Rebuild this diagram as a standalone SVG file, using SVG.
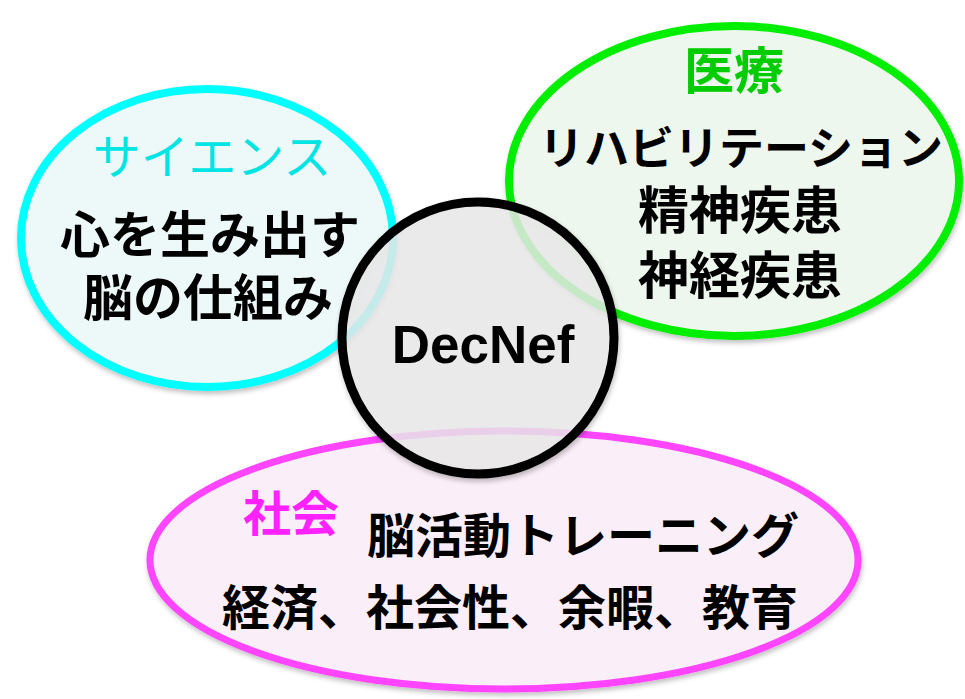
<svg xmlns="http://www.w3.org/2000/svg" width="965" height="699" viewBox="0 0 965 699">
<defs>
<filter id="sh" x="-10%" y="-10%" width="120%" height="125%">
<feDropShadow dx="1" dy="3" stdDeviation="2.5" flood-color="#000" flood-opacity="0.25"/>
</filter>
</defs>
<style>
.jp{font-family:"Noto Sans CJK JP","Noto Sans CJK SC",sans-serif;text-anchor:middle;fill:#000}
.b{font-weight:700}
.m{font-weight:600}
</style>
<rect width="965" height="699" fill="#fff"/>
<g id="science">
<ellipse cx="207" cy="238" rx="186" ry="149" fill="#edf8f9" stroke="#00ffff" stroke-width="8" filter="url(#sh)"/>
<text class="jp" x="212" y="174" font-size="48" style="fill:#00e4e4">サイエンス</text>
<text class="jp m" x="210" y="253" font-size="50">心を生み出す</text>
<text class="jp m" x="208" y="316" font-size="50">脳の仕組み</text>
</g>
<g id="medical">
<ellipse cx="734" cy="181" rx="225" ry="155" fill="#edf7ee" stroke="#00ee00" stroke-width="8" filter="url(#sh)"/>
<text class="jp b" x="734" y="89" font-size="50" style="fill:#00cc00">医療</text>
<text class="jp m" x="741" y="165" font-size="45">リハビリテーション</text>
<text class="jp b" x="740" y="229" font-size="51">精神疾患</text>
<text class="jp b" x="740" y="294" font-size="51">神経疾患</text>
</g>
<g id="society">
<ellipse cx="504" cy="560" rx="354" ry="129" fill="#faeef8" stroke="#ff44ff" stroke-width="7" filter="url(#sh)"/>
<text class="jp b" x="291" y="531" font-size="48" style="fill:#ff22ff">社会</text>
<text class="jp b" x="583" y="553" font-size="48">脳活動トレーニング</text>
<text class="jp b" x="510" y="625" font-size="48">経済、社会性、余暇、教育</text>
</g>
<g id="decnef">
<circle cx="478" cy="338" r="136" fill="#ececec" fill-opacity="0.82" stroke="#000" stroke-width="9" filter="url(#sh)"/>
<text x="483" y="363" font-family="'Liberation Sans',Arial,sans-serif" font-weight="700" font-size="53" text-anchor="middle" fill="#000">DecNef</text>
</g>
<g id="connectors"/>
</svg>
